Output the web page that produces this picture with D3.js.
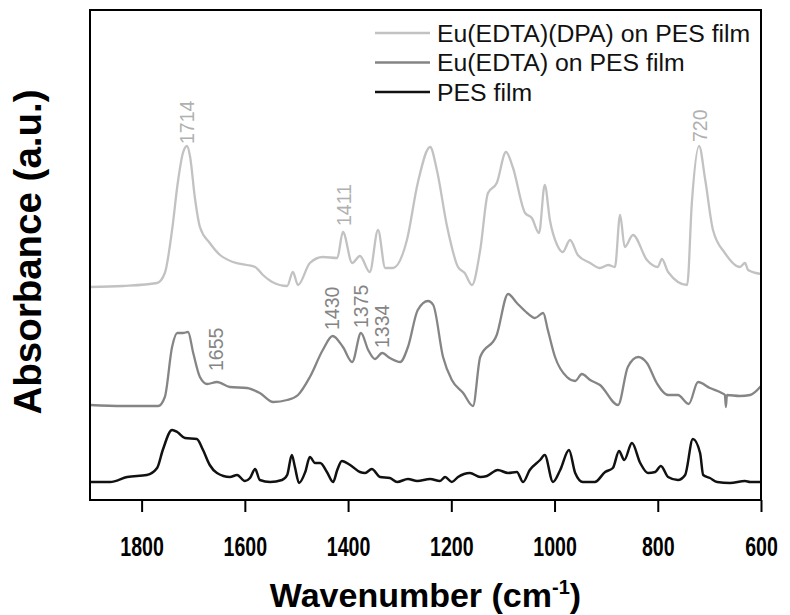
<!DOCTYPE html>
<html>
<head>
<meta charset="utf-8">
<script src="https://cdn.jsdelivr.net/npm/d3@7"></script>
<style>
  html, body { margin: 0; padding: 0; background: #fff; }
  svg { display: block; font-family: Arial, "Liberation Sans", sans-serif; }
</style>
</head>
<body>
<svg id="chart" width="790" height="615"></svg>
<script>
// ---- data (wavenumber cm-1, absorbance a.u., offset for stacking) ----
const dpaWn = [1900,1836,1770,1755,1741,1730,1720,1712,1706,1697,1687,1668,1648,1623,1596,1580,1565,1547,1518,1507,1497,1474,1449,1421,1410,1392,1377,1358,1342,1328,1313,1286,1265,1241,1228,1208,1187,1174,1160,1144,1129,1112,1094,1081,1057,1044,1030,1019,1009,995,984,970,955,931,912,896,883,873,864,848,821,800,792,780,743,734,720,708,693,670,641,631,625,600];
const dpaAbs = [2.13,2.14,2.17,2.27,2.70,3.17,3.47,3.54,3.43,3.03,2.73,2.57,2.45,2.38,2.35,2.33,2.25,2.18,2.14,2.28,2.15,2.37,2.43,2.42,2.68,2.37,2.44,2.28,2.70,2.32,2.32,2.60,3.17,3.53,3.30,2.73,2.33,2.27,2.15,2.50,3.07,3.17,3.48,3.33,2.87,2.82,2.67,3.15,2.80,2.55,2.48,2.60,2.45,2.37,2.32,2.35,2.33,2.85,2.53,2.65,2.40,2.33,2.41,2.28,2.15,2.97,3.54,3.20,2.70,2.47,2.33,2.37,2.30,2.26];

const edtaWn = [1900,1836,1768,1755,1741,1731,1720,1710,1700,1687,1673,1654,1629,1596,1571,1545,1518,1497,1474,1449,1430,1410,1392,1375,1361,1348,1334,1319,1299,1284,1265,1245,1235,1216,1199,1177,1158,1144,1112,1090,1073,1053,1038,1022,1013,999,976,960,947,931,912,877,858,838,821,802,780,761,740,722,699,676,670,668,666,641,621,600];
const edtaAbs = [0.95,0.94,0.94,1.03,1.53,1.67,1.67,1.68,1.47,1.23,1.16,1.18,1.13,1.12,1.07,0.98,1.00,1.05,1.23,1.50,1.64,1.53,1.38,1.67,1.50,1.41,1.47,1.42,1.38,1.53,1.90,1.99,1.95,1.43,1.20,1.07,0.94,1.43,1.65,2.06,1.97,1.87,1.82,1.87,1.70,1.43,1.23,1.19,1.26,1.20,1.15,0.95,1.33,1.43,1.37,1.17,1.05,1.05,0.96,1.18,1.12,1.07,1.05,0.93,1.05,1.04,1.05,1.14];

const pesWn = [1900,1861,1828,1790,1770,1759,1741,1731,1716,1693,1681,1668,1654,1629,1615,1600,1590,1580,1571,1551,1528,1518,1509,1503,1495,1483,1474,1464,1454,1441,1429,1421,1412,1396,1377,1367,1354,1338,1319,1305,1284,1266,1241,1222,1212,1199,1187,1164,1144,1131,1110,1090,1073,1061,1048,1028,1019,1003,989,972,960,945,922,902,887,875,865,850,834,819,805,794,780,761,747,732,718,712,699,685,660,631,621,600];
const pesAbs = [0.18,0.18,0.23,0.25,0.32,0.50,0.70,0.68,0.62,0.61,0.50,0.35,0.27,0.23,0.25,0.19,0.22,0.31,0.20,0.18,0.20,0.25,0.45,0.33,0.17,0.28,0.43,0.37,0.37,0.28,0.18,0.30,0.39,0.35,0.28,0.27,0.31,0.23,0.22,0.18,0.21,0.19,0.21,0.19,0.23,0.18,0.23,0.27,0.23,0.24,0.30,0.27,0.28,0.18,0.30,0.40,0.45,0.18,0.30,0.50,0.27,0.18,0.18,0.28,0.32,0.49,0.40,0.57,0.37,0.27,0.28,0.34,0.23,0.20,0.25,0.61,0.47,0.25,0.22,0.18,0.17,0.19,0.18,0.18];

const seriesNames = ["Eu(EDTA)(DPA) on PES film", "Eu(EDTA) on PES film", "PES film"];
const seriesColors = ["#c2c2c2", "#858585", "#111111"];

const xTicks = [1800,1600,1400,1200,1000,800,600];

// peak annotations: label, wavenumber, absorbance position of the label's base, series index
const peakLabels = ["1714","1411","720","1655","1430","1375","1334"];
const peakWn = [1712,1408,718,1655,1430,1375,1334];
const peakPos = [3.56,2.74,3.58,1.29,1.70,1.72,1.52];
const peakSeries = [0,0,0,1,1,1,1];

// ---- layout ----
const svg = d3.select("#chart");
const m = {left: 90, right: 761, top: 10, bottom: 500};

const x = d3.scaleLinear().domain([1900, 600]).range([m.left, m.right]);
const y = d3.scaleLinear().domain([0, 4.9]).range([m.bottom, m.top]);

const data = [
  dpaWn.map((w, i) => [w, dpaAbs[i]]),
  edtaWn.map((w, i) => [w, edtaAbs[i]]),
  pesWn.map((w, i) => [w, pesAbs[i]])
];

const line = d3.line()
  .x(d => x(d[0]))
  .y(d => y(d[1]))
  .curve(d3.curveMonotoneX);

svg.append("g").selectAll("path")
  .data(data)
  .join("path")
  .attr("d", line)
  .attr("fill", "none")
  .attr("stroke", (d, i) => seriesColors[i])
  .attr("stroke-width", (d, i) => i === 2 ? 2.5 : 2.3)
  .attr("stroke-linejoin", "round");

// frame
svg.append("rect")
  .attr("x", m.left).attr("y", m.top)
  .attr("width", m.right - m.left).attr("height", m.bottom - m.top)
  .attr("fill", "none").attr("stroke", "#000").attr("stroke-width", 2);

// bottom axis
const xAxis = svg.append("g")
  .attr("transform", `translate(0,${m.bottom})`)
  .call(d3.axisBottom(x).tickValues(xTicks).tickSize(12).tickSizeOuter(0).tickPadding(24).tickFormat(d3.format("d")));
xAxis.select(".domain").remove();
xAxis.selectAll(".tick line").attr("stroke", "#000").attr("stroke-width", 2);
xAxis.selectAll(".tick text")
  .attr("fill", "#000")
  .attr("font-size", 28)
  .attr("font-weight", "bold")
  .attr("transform", "scale(0.7,1)");

// axis titles
const xt = svg.append("text")
  .attr("x", (m.left + m.right) / 2)
  .attr("y", 607)
  .attr("text-anchor", "middle")
  .attr("font-size", 34)
  .attr("font-weight", "bold")
  .attr("fill", "#000");
xt.append("tspan").text("Wavenumber (cm");
xt.append("tspan").attr("font-size", 20).attr("dy", -13).text("-1");
xt.append("tspan").attr("dy", 13).text(")");

svg.append("text")
  .attr("transform", `translate(41,${(m.top + m.bottom) / 2 - 3}) rotate(-90)`)
  .attr("text-anchor", "middle")
  .attr("font-size", 38.5)
  .attr("font-weight", "bold")
  .attr("fill", "#000")
  .text("Absorbance (a.u.)");

// legend
const legend = svg.append("g");
seriesNames.forEach((name, i) => {
  const ly = 33 + i * 29.5;
  legend.append("line")
    .attr("x1", 375).attr("x2", 430).attr("y1", ly).attr("y2", ly)
    .attr("stroke", seriesColors[i]).attr("stroke-width", 2.3);
  legend.append("text")
    .attr("x", 437).attr("y", ly + 8.5)
    .attr("font-size", 24.8)
    .attr("fill", "#111")
    .text(name);
});

// peak labels
svg.append("g").selectAll("text")
  .data(peakLabels)
  .join("text")
  .attr("transform", (d, i) => `translate(${x(peakWn[i])},${y(peakPos[i])}) rotate(-90)`)
  .attr("dy", "0.35em")
  .attr("font-size", 19.5)
  .attr("fill", (d, i) => peakSeries[i] === 0 ? "#b0b0b0" : "#858585")
  .text(d => d);
</script>
</body>
</html>
